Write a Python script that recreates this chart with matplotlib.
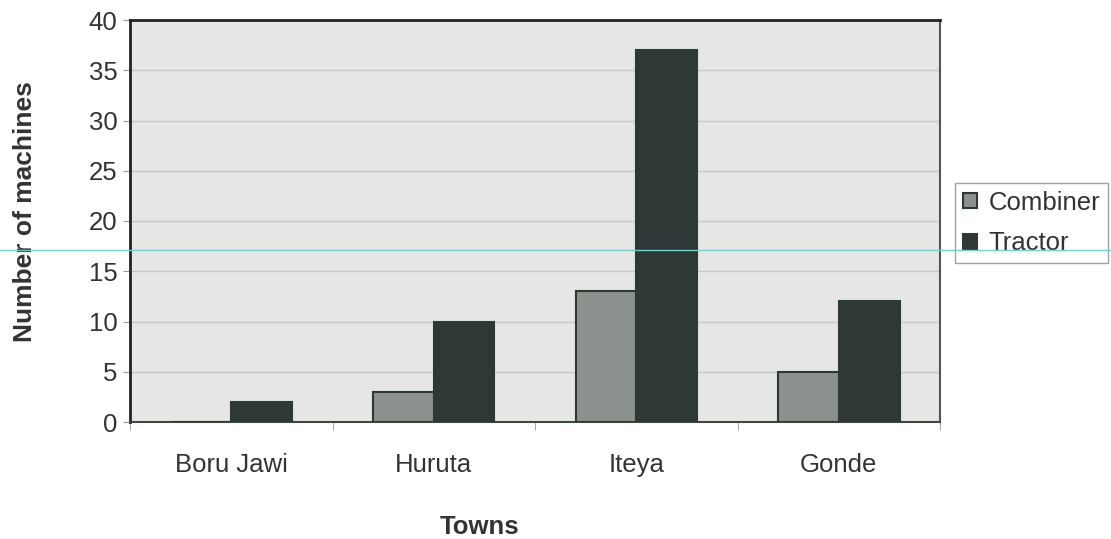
import matplotlib.pyplot as plt
from matplotlib.lines import Line2D
import numpy as np

towns = ['Boru Jawi', 'Huruta', 'Iteya', 'Gonde']
combiner = [0, 3, 13, 5]
tractor = [2, 10, 37, 12]

plt.rcParams['font.family'] = ['Liberation Sans', 'DejaVu Sans']

W, H = 1111, 539
fig = plt.figure(figsize=(W / 100, H / 100), dpi=100)
fig.patch.set_facecolor('white')
ax = fig.add_axes([130 / W, 1 - 422 / H, 810 / W, 402 / H])
ax.set_facecolor('#e6e6e4')

x = np.arange(len(towns))
w = 0.3
ax.bar(x - w / 2, combiner, w, color='#8c918e', edgecolor='#2c3a30', linewidth=1.5, label='Combiner', zorder=3)
ax.bar(x + w / 2, tractor, w, color='#2e3837', edgecolor='#2c3a30', linewidth=1.5, label='Tractor', zorder=3)

ax.set_xlim(-0.5, 3.5)
ax.set_ylim(0, 40)
ax.set_yticks(range(0, 41, 5))
ax.yaxis.grid(True, color='#c4c8cc', linewidth=1, zorder=0)
ax.set_xticks(x)
ax.set_xticklabels(towns, fontsize=18.5, color='#333333')
ax.tick_params(axis='x', length=0, pad=22)
ax.set_xticks(np.arange(-0.5, 4, 1), minor=True)
ax.tick_params(axis='x', which='minor', length=6, color='#999999')
ax.tick_params(axis='y', labelsize=18.5, labelcolor='#333333', length=5, color='#999999', pad=4)

for s in ['left', 'top']:
    ax.spines[s].set_color('#222222')
    ax.spines[s].set_linewidth(2)
ax.spines['right'].set_color('#555555')
ax.spines['right'].set_linewidth(1.5)
ax.spines['bottom'].set_color('#3a4a40')
ax.spines['bottom'].set_linewidth(1.5)

ax.set_ylabel('Number of machines', fontsize=19, fontweight='bold', color='#333333')
ax.yaxis.set_label_coords((25 - 130) / 810, (422 - 212) / 402)
ax.yaxis.label.set_va('center')
ax.set_xlabel('Towns', fontsize=18.5, fontweight='bold', color='#333333')
ax.xaxis.set_label_coords((480 - 130) / 810, (422 - 527) / 402)
ax.xaxis.label.set_va('center')

leg = ax.legend(loc='center left', bbox_to_anchor=(1.0185, 0.495), fontsize=18.5, frameon=True,
                fancybox=False, edgecolor='#888888', handlelength=0.55, handleheight=0.55,
                handletextpad=0.45, borderpad=0.3, labelspacing=0.65, borderaxespad=0)
leg.get_frame().set_linewidth(1)
for t in leg.get_texts():
    t.set_color('#333333')

# scanner line across the page
fig.add_artist(Line2D([0, 1], [1 - 250 / H, 1 - 250 / H], color='#55dddd', linewidth=1))

fig.savefig('out.png', dpi=100)
